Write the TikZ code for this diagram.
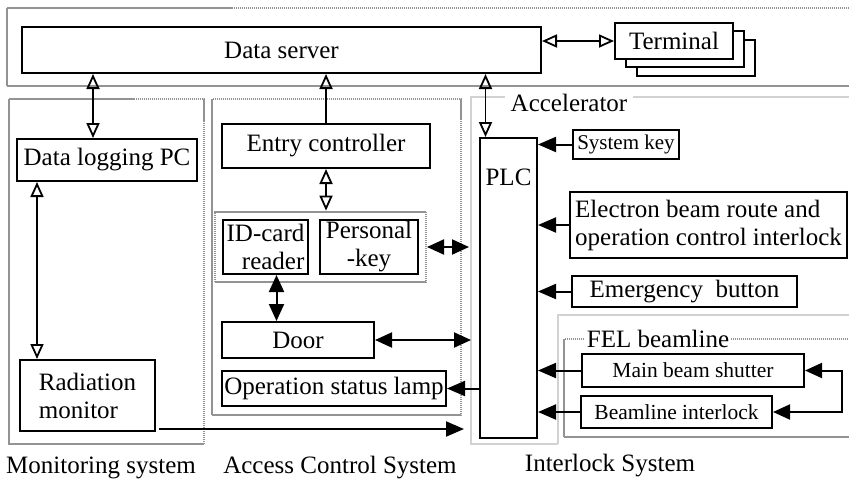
\documentclass[tikz,border=0pt]{standalone}
\usepackage{fontspec}
\setmainfont{Liberation Serif}
\usetikzlibrary{arrows.meta,positioning,fit,calc}

\begin{document}
\begin{tikzpicture}[
  x=0.5pt, y=-0.5pt,
  font=\fontsize{12.5}{14}\selectfont,
  box/.style={
    draw,
    line width=1pt,
    inner sep=1pt,
    align=center,
    fill=white
  },
  smallbox/.style={
    box,
    font=\fontsize{10.75}{13}\selectfont
  },
  frame/.style={
    draw=gray!85,
    line width=1pt,
    dash pattern=on 0.75pt off 0.25pt
  },
  accframe/.style={
    draw=gray!35,
    line width=1.2pt
  },
  framelabel/.style={
    fill=white,
    inner xsep=2pt,
    inner ysep=1pt
  },
  caption/.style={anchor=base},
  openlink/.style={{Triangle[open,length=7.5pt,width=6.5pt]}-{Triangle[open,length=7.5pt,width=6.5pt]}, line width=0.9pt},
  openhead/.style={-{Triangle[open,length=7.5pt,width=6.5pt]}, line width=0.9pt},
  signal/.style={-{Triangle[length=9pt,width=7.5pt]}, line width=1pt},
  duplex/.style={{Triangle[length=8.5pt,width=7.5pt]}-{Triangle[length=8.5pt,width=7.5pt]}, line width=1pt}
]
\useasboundingbox (0,0) rectangle (849,482);

% System outlines
\draw[frame] (7,8) rectangle (870,86);
\draw[frame] (9,99) rectangle (204,444);
\draw[frame] (212,99) rectangle (461,415);
\draw[accframe] (558,444) -- (471,444) -- (471,97) -- (870,97);
\draw[accframe] (558,444) -- (558,315) -- (870,315);
\draw[frame] (564,339) rectangle (870,437);
\node[framelabel, inner xsep=3pt] (acclabel) at (569,103) {Accelerator};
\node[framelabel, inner xsep=1pt] (fellabel) at (658,339) {FEL beamline};

% Top level
\node[box, minimum width=259.5pt, minimum height=23pt] (dataserver) at (281.5,50) {Data server};
\node[box, minimum width=59pt, minimum height=18pt] (term3) at (696,58) {};
\node[box, minimum width=59pt, minimum height=18pt] (term2) at (685,49) {};
\node[box, minimum width=59pt, minimum height=18pt] (terminal) at (674,41) {Terminal};

% Monitoring system
\node[box, minimum width=90pt, minimum height=21pt] (logpc) at (107,160) {Data logging PC};
\node[box, align=left, minimum width=67.5pt, minimum height=35.5pt] (radmon) at (87.5,395.5) {Radiation\\monitor};

% Access control system
\node[box, minimum width=104pt, minimum height=22pt] (entry) at (326,146) {Entry controller};
\node[box, align=right, minimum width=42.5pt, minimum height=27pt] (idcard) at (265.5,247) {ID-card\\reader};
\node[box, minimum width=49pt, minimum height=27pt] (perskey) at (369,247) {Personal\\-key};
\node[frame, fit=(idcard)(perskey), inner sep=3.5pt] (idgroup) {};
\node[box, minimum width=76pt, minimum height=18pt] (door) at (298,340) {Door};
\node[box, minimum width=112pt, minimum height=17.5pt] (lamp) at (334,388.5) {Operation status lamp};

% Interlock system
\node[box, minimum width=28.5pt, minimum height=150pt, label={[anchor=center,yshift=-20pt]north:PLC}] (plc) at (508.5,288) {};
\node[box, font=\fontsize{10.5}{12}\selectfont, minimum width=53pt, minimum height=14.5pt] (syskey) at (626,144.5) {System key};
\node[box, align=left, minimum width=138.5pt, minimum height=33pt] (electron) at (708.5,225) {Electron beam route and\\operation control interlock};
\node[box, minimum width=112.5pt, minimum height=15.5pt] (emergency) at (684.5,291.5) {Emergency\ \ button};
\node[smallbox, minimum width=111pt, minimum height=16.5pt] (shutter) at (693,370.5) {Main beam shutter};
\node[smallbox, minimum width=95.5pt, minimum height=16pt] (bli) at (676.5,412) {Beamline interlock};

% Captions
\node[caption] (moncap) at (101,473) {Monitoring system};
\node[caption] (acscap) at (340,473) {Access Control System};
\node[caption] (ilkcap) at (610,471) {Interlock System};

% Links to the data server
\draw[openlink] ([xshift=-7pt]logpc.north) coordinate (lpctop) -- (lpctop |- dataserver.south);
\draw[openhead] (entry.north) -- (entry.north |- dataserver.south);
\draw[openlink] ([xshift=-11.5pt]plc.north) coordinate (plctop) -- (plctop |- dataserver.south);
\draw[openlink] (dataserver.east |- terminal.west) -- (terminal.west);

% Monitoring
\draw[openlink] ([xshift=9pt]radmon.north west) coordinate (rmtop) -- (rmtop |- logpc.south);
\draw[signal] ([shift={(1.5pt,1.5pt)}]radmon.south east) coordinate (rmout) -- ($(rmout -| plc.west)+(-7.5pt,0)$);

% Access control
\draw[openlink] (entry.south) -- (entry.south |- idgroup.north);
\draw[duplex] (idgroup.east) -- ($(idgroup.east -| plc.west)+(-5pt,0)$);
\draw[duplex] ([xshift=5.5pt]idcard.south) coordinate (idbot) -- (idbot |- door.north);
\draw[duplex] (door.east) -- ($(door.east -| plc.west)+(-4pt,0)$);
\draw[signal] (plc.west |- lamp.east) -- (lamp.east);

% Interlock inputs
\draw[signal] (syskey.west) -- (syskey.west -| plc.east);
\draw[signal] (electron.west) -- (electron.west -| plc.east);
\draw[signal] (emergency.west) -- (emergency.west -| plc.east);
\draw[signal] (shutter.west) -- (shutter.west -| plc.east);
\draw[signal] (bli.west) -- (bli.west -| plc.east);
\draw[duplex] (shutter.east) -- ++(18.5pt,0) |- (bli.east);

\end{tikzpicture}
\end{document}
